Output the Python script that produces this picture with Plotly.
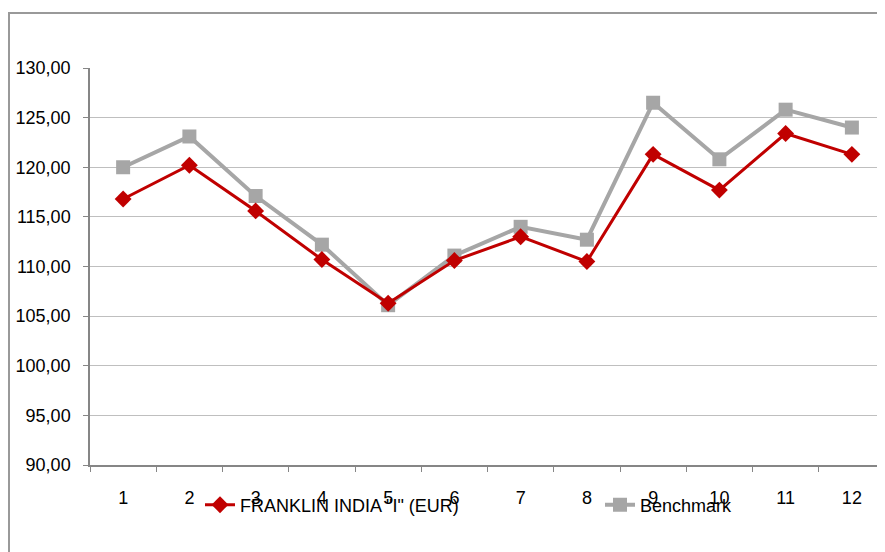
import plotly.graph_objects as go

categories = ["1", "2", "3", "4", "5", "6", "7", "8", "9", "10", "11", "12"]
franklin = [116.8, 120.2, 115.6, 110.7, 106.3, 110.6, 113.0, 110.5, 121.3, 117.7, 123.4, 121.3]
benchmark = [120.0, 123.1, 117.1, 112.2, 106.1, 111.1, 114.0, 112.7, 126.5, 120.8, 125.8, 124.0]
y_ticks = [90, 95, 100, 105, 110, 115, 120, 125, 130]
y_tick_labels = ["90,00", "95,00", "100,00", "105,00", "110,00", "115,00", "120,00", "125,00", "130,00"]

FONT = "Liberation Sans, Arial, sans-serif"

# page has an 8px body margin; work in page coordinates and convert
OFF = 8
W, H = 885 - OFF, 552 - OFF
L, T, B = 90 - OFF, 68 - OFF, 465 - OFF  # plot area in figure coords

fig = go.Figure()
fig.add_trace(go.Scatter(
    x=categories, y=benchmark, name="Benchmark", mode="lines+markers",
    line=dict(color="#A6A6A6", width=4),
    marker=dict(symbol="square", size=14, color="#A6A6A6"),
    legend="legend2",
))
fig.add_trace(go.Scatter(
    x=categories, y=franklin, name='FRANKLIN INDIA "I" (EUR)', mode="lines+markers",
    line=dict(color="#C00000", width=3),
    marker=dict(symbol="diamond", size=13, color="#C00000"),
    legend="legend",
))

plot_w = W - L
plot_h = B - T

def px(x):
    return (x - OFF - L) / plot_w

def py(y):
    return (B - (y - OFF)) / plot_h

fig.update_layout(
    width=W, height=H,
    margin=dict(l=L, r=0, t=T, b=H - B, pad=0),
    paper_bgcolor="white", plot_bgcolor="white",
    font=dict(family=FONT, size=18, color="black"),
    showlegend=True,
    legend=dict(x=px(200), y=py(505), xanchor="left", yanchor="middle",
                bgcolor="rgba(0,0,0,0)", font=dict(size=18), itemwidth=30),
    legend2=dict(x=px(600), y=py(505), xanchor="left", yanchor="middle",
                 bgcolor="rgba(0,0,0,0)", font=dict(size=18), itemwidth=30),
    xaxis=dict(
        type="category", range=[-0.5, 11.5],
        showgrid=False, showline=True, linecolor="#868686", linewidth=1.5,
        ticks="outside", tickson="boundaries", ticklen=5, tickcolor="#868686",
        tickwidth=1, ticklabelstandoff=16, tickfont=dict(size=18),
        zeroline=False,
    ),
    yaxis=dict(
        range=[90, 130], tickvals=y_ticks, ticktext=y_tick_labels,
        showgrid=True, gridcolor="#BFBFBF", gridwidth=1.3,
        showline=True, linecolor="#868686", linewidth=1.5,
        ticks="outside", ticklen=5, tickcolor="#868686", tickwidth=1,
        ticklabelstandoff=9, tickfont=dict(size=18), zeroline=False,
    ),
    shapes=[
        dict(type="line", xref="paper", yref="paper", x0=px(9), x1=px(9), y0=py(13), y1=py(570),
             line=dict(color="#999999", width=2)),
        dict(type="line", xref="paper", yref="paper", x0=px(8), x1=px(900), y0=py(13), y1=py(13),
             line=dict(color="#999999", width=2)),
    ],
)

fig.write_html("out.html")
